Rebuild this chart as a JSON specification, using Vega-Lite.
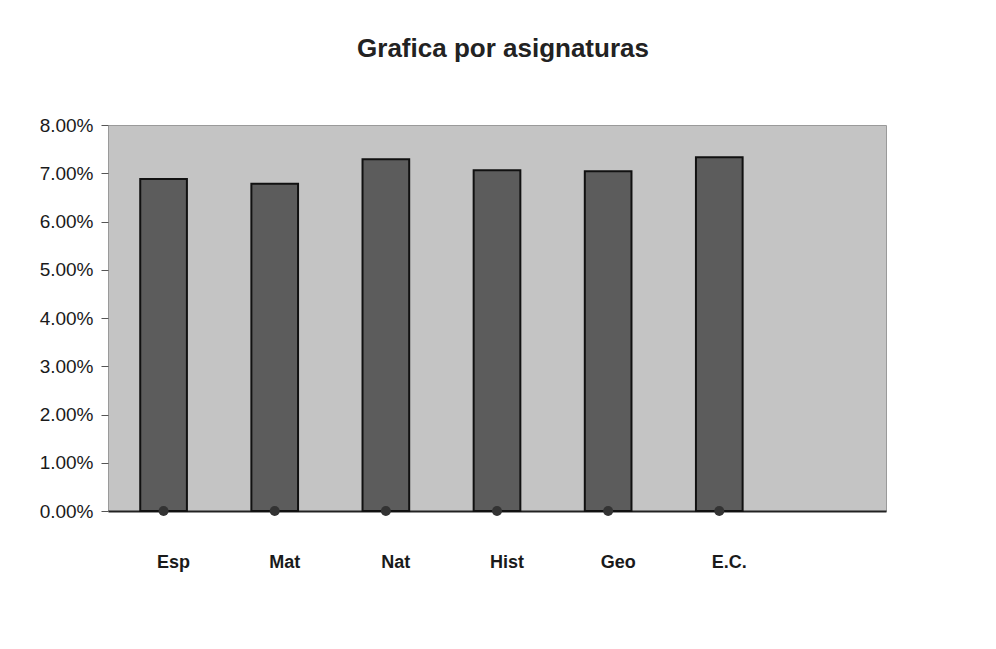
{
  "$schema": "https://vega.github.io/schema/vega-lite/v6.json",
  "autosize": {"type": "none"},
  "width": 778,
  "height": 386,
  "padding": {"left": 108, "top": 125, "right": 110, "bottom": 138},
  "background": "#ffffff",
  "title": {
    "text": "Grafica por asignaturas",
    "font": "Liberation Sans",
    "fontSize": 26,
    "fontWeight": "bold",
    "color": "#222222",
    "anchor": "middle",
    "dx": 6,
    "offset": 54
  },
  "config": {
    "view": {"fill": "#c4c4c4", "stroke": "#9a9a9a", "strokeWidth": 1},
    "axis": {"labelFont": "Liberation Sans", "labelColor": "#1a1a1a", "grid": false}
  },
  "data": {
    "values": [
      {"asignatura": "Esp", "valor": 0.0688},
      {"asignatura": "Mat", "valor": 0.0678},
      {"asignatura": "Nat", "valor": 0.0729},
      {"asignatura": "Hist", "valor": 0.0706},
      {"asignatura": "Geo", "valor": 0.0704},
      {"asignatura": "E.C.", "valor": 0.0733}
    ]
  },
  "encoding": {
    "x": {
      "field": "asignatura",
      "type": "nominal",
      "sort": null,
      "scale": {"domain": ["Esp", "Mat", "Nat", "Hist", "Geo", "E.C.", " "], "paddingInner": 0.58, "paddingOuter": 0.29},
      "axis": {
        "title": null,
        "labelAngle": 0,
        "labelFontSize": 18,
        "labelFontWeight": "bold",
        "labelPadding": 42,
        "labelOffset": 10,
        "ticks": false,
        "domainColor": "#222222",
        "domainWidth": 2
      }
    }
  },
  "layer": [
    {
      "mark": {"type": "bar", "color": "#5c5c5c", "stroke": "#111111", "strokeWidth": 2},
      "encoding": {
        "y": {
          "field": "valor",
          "type": "quantitative",
          "scale": {"domain": [0, 0.08]},
          "axis": {
            "title": null,
            "format": ".2%",
            "values": [0, 0.01, 0.02, 0.03, 0.04, 0.05, 0.06, 0.07, 0.08],
            "labelFontSize": 19,
            "labelPadding": 8,
            "tickSize": 7,
            "tickColor": "#555555",
            "domain": false
          }
        }
      }
    },
    {
      "mark": {"type": "point", "filled": true, "color": "#333333", "size": 100, "opacity": 1},
      "encoding": {"y": {"datum": 0}}
    }
  ]
}
